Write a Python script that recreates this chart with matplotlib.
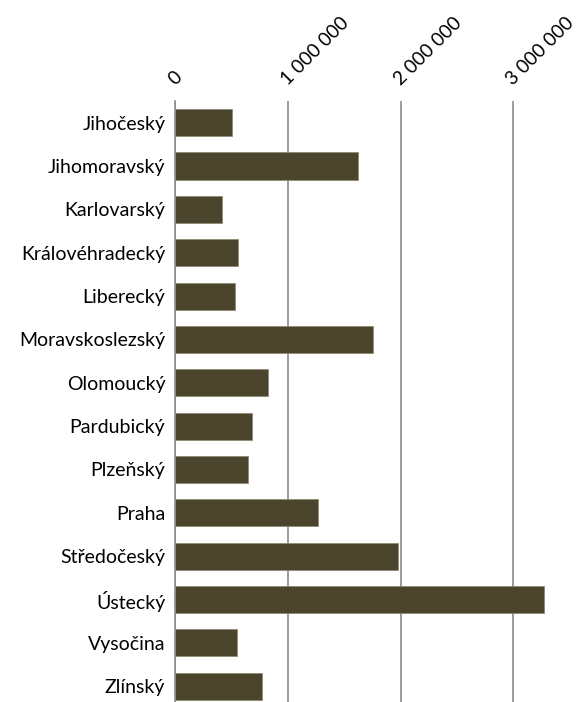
import numpy as np
import matplotlib
matplotlib.use("Agg")
from matplotlib import pyplot as plt
from matplotlib.ticker import FuncFormatter

# kraje a hodnoty
regions = ["Jihočeský", "Jihomoravský", "Karlovarský", "Královéhradecký", "Liberecký",
           "Moravskoslezský", "Olomoucký", "Pardubický", "Plzeňský", "Praha",
           "Středočeský", "Ústecký", "Vysočina", "Zlínský"]
values = [504000, 1618000, 420000, 560000, 533000,
          1757000, 827000, 684000, 643000, 1268000,
          1973000, 3275000, 552000, 774000]
x_ticks = [0, 1000000, 2000000, 3000000]

BAR = "#4b452e"
GRID = "#8c8c8c"

plt.rcParams["font.family"] = ["Lato", "DejaVu Sans"]

W, H = 580, 702
fig = plt.figure(figsize=(W / 100, H / 100), dpi=100)

# plocha grafu v pixelech (spodek a pravý okraj přesahují obrázek)
left, top = 175, 101
px_per_m = 112.8
xmax = 3.5e6
right = left + px_per_m * xmax / 1e6
bottom = top + 43.35 * len(regions)
ax = fig.add_axes([left / W, 1 - bottom / H, (right - left) / W, (bottom - top) / H])

y = np.arange(len(regions))
ax.barh(y, values, height=0.625, color=BAR, edgecolor="#8a8672", linewidth=0.5, zorder=3)

ax.set_ylim(len(regions) - 0.5, -0.5)
ax.set_xlim(0, xmax)
ax.set_yticks(y)
ax.set_yticklabels(regions, fontsize=14)
ax.set_xticks(x_ticks)
ax.xaxis.set_major_formatter(FuncFormatter(lambda v, p: f"{int(v):,}".replace(",", " ")))
ax.xaxis.tick_top()
ax.tick_params(axis="x", length=0, pad=11, labelsize=13.8)
ax.tick_params(axis="y", length=0, pad=7)
plt.setp(ax.get_xticklabels(), rotation=45, ha="left", va="baseline", rotation_mode="anchor")

ax.grid(axis="x", color=GRID, linewidth=1.2, zorder=0)
for s in ["top", "right", "bottom"]:
    ax.spines[s].set_visible(False)
ax.spines["left"].set_color(GRID)
ax.spines["left"].set_linewidth(1.2)
ax.spines["left"].set_zorder(4)

fig.savefig("out.png", dpi=100)
